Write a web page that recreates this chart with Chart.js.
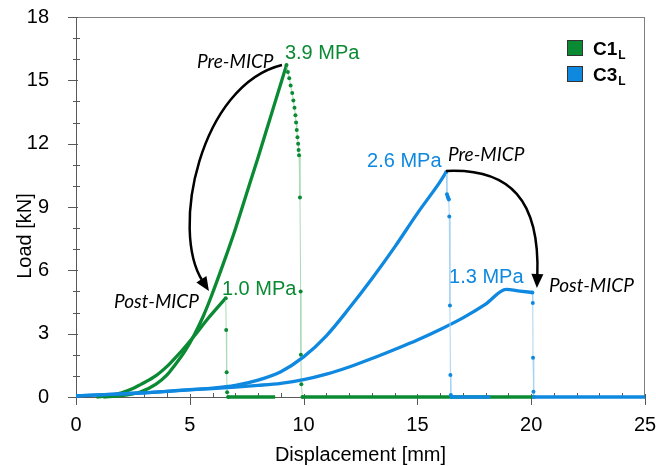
<!DOCTYPE html>
<html>
<head>
<meta charset="utf-8">
<script src="https://cdn.jsdelivr.net/npm/chart.js@4.4.0/dist/chart.umd.min.js"></script>
<style>
  html, body { margin: 0; padding: 0; background: #fff; }
  #mycanvas { display: block; }
</style>
</head>
<body>
<canvas id="mycanvas" width="656" height="466"></canvas>
<script>
// C1_L (green) - pre and post MICP
var c1PreX  = [1.2, 2.0, 2.5, 2.85, 3.5, 4.0, 4.3, 4.8, 5.2, 5.6, 5.92, 6.5, 7.0, 7.5, 8.0, 8.5, 9.0, 9.25];
var c1PreY  = [0, 0.06, 0.15, 0.25, 0.6, 1.05, 1.45, 2.2, 2.95, 3.85, 4.7, 6.4, 7.95, 9.65, 11.35, 13.1, 14.85, 15.73];
var c1PreDropX = [9.25, 9.31, 9.37, 9.43, 9.5, 9.55, 9.6, 9.64, 9.67, 9.7, 9.73, 9.76, 9.78, 9.8, 9.84, 9.87, 9.88, 9.9, 9.95];
var c1PreDropY = [15.73, 15.4, 15.1, 14.75, 14.4, 14.05, 13.7, 13.35, 13.0, 12.65, 12.3, 12.0, 11.7, 11.45, 9.45, 5.0, 2.0, 0.6, 0];
var c1PreRestX = [9.95, 20.1];
var c1PreRestY = [0, 0];

var c1PostX = [0.9, 1.5, 2.0, 2.5, 2.85, 3.5, 4.0, 4.3, 4.8, 5.2, 5.8, 6.2, 6.58];
var c1PostY = [0, 0.08, 0.2, 0.4, 0.6, 1.0, 1.45, 1.78, 2.38, 2.9, 3.72, 4.22, 4.68];
var c1PostDropX = [6.58, 6.6, 6.62, 6.64, 6.68];
var c1PostDropY = [4.68, 3.17, 1.17, 0.22, 0];
var c1PostRestX = [6.68, 8.75];
var c1PostRestY = [0, 0];

// C3_L (blue) - pre and post MICP
var c3PreX = [0, 1, 2, 3, 4, 5, 6, 7, 8, 9, 10, 11, 12, 13, 14, 15, 16, 16.27];
var c3PreY = [0.05, 0.1, 0.15, 0.2, 0.27, 0.35, 0.42, 0.55, 0.8, 1.2, 1.9, 2.9, 4.2, 5.6, 7.1, 8.7, 10.2, 10.66];
var c3PreDropX = [16.27, 16.3, 16.33, 16.36, 16.38, 16.4, 16.43, 16.45, 16.47, 16.5];
var c3PreDropY = [10.66, 9.6, 9.5, 9.42, 9.35, 8.55, 4.33, 1.04, 0.1, 0];
var c3PreRestX = [16.5, 18.2];
var c3PreRestY = [0, 0];

var c3PostX = [0, 1, 2, 3, 4, 5, 6, 7, 8, 9, 10, 11, 12, 13, 14, 15, 16, 17, 18, 18.9, 19.5, 20.05];
var c3PostY = [0.05, 0.1, 0.15, 0.2, 0.27, 0.34, 0.4, 0.47, 0.55, 0.65, 0.82, 1.08, 1.42, 1.82, 2.25, 2.7, 3.2, 3.75, 4.4, 5.1, 5.02, 4.95];
var c3PostDropX = [20.05, 20.07, 20.08, 20.1, 20.12];
var c3PostDropY = [4.95, 4.45, 1.86, 0.25, 0];
var c3PostRestX = [20.12, 25];
var c3PostRestY = [0, 0];

var seriesNames = ['C1', 'C3'];
var seriesSub = 'L';
var xTicks = [0, 5, 10, 15, 20, 25];
var yTicks = [0, 3, 6, 9, 12, 15, 18];

// annotations (data units)
var noteText = ['3.9 MPa', 'Pre-MICP', '1.0 MPa', 'Post-MICP', '2.6 MPa', 'Pre-MICP', '1.3 MPa', 'Post-MICP'];
var noteX = [9.18, 5.32, 6.41, 1.67, 12.79, 16.34, 16.39, 20.78];
var noteY = [16.01, 15.58, 4.83, 4.22, 10.9, 11.18, 5.4, 4.97];
var noteKind = ['g', 'k', 'g', 'k', 'b', 'k', 'b', 'k'];

// arrows: start, cp1, cp2, tip
var arrow1 = [[9.05, 15.73], [5.45, 14.78], [4.13, 7.91], [5.84, 5.02]];
var arrow2 = [[16.26, 10.71], [19.07, 10.85], [20.39, 9.33], [20.25, 5.16]];

var GREEN = '#0b8a34';
var BLUE = '#0f88e0';
var GREEN_LT = '#a9dbb6';
var BLUE_LT = '#a8d3f3';
var FONT = "'Liberation Sans', Arial, sans-serif";

function pts(xs, ys) {
  var out = [];
  for (var i in xs) out.push({x: xs[i], y: ys[i]});
  return out;
}
function curve(xs, ys, color) {
  return { data: pts(xs, ys), showLine: true, borderColor: color, backgroundColor: color,
    borderWidth: 3.3, pointRadius: 0, cubicInterpolationMode: 'monotone', clip: 6 };
}
function drop(xs, ys, color, light) {
  return { data: pts(xs, ys), showLine: true, borderColor: light, backgroundColor: color,
    borderWidth: 1, pointRadius: 2, pointBorderWidth: 0, tension: 0, clip: 6 };
}
function flat(xs, ys, color) {
  return { data: pts(xs, ys), showLine: true, borderColor: color, backgroundColor: color,
    borderWidth: 3.3, pointRadius: 0, tension: 0, clip: 6 };
}

var frame = {
  id: 'frame',
  beforeDatasetsDraw: function(chart) {
    var c = chart.ctx, a = chart.chartArea, sx = chart.scales.x, sy = chart.scales.y;
    c.save();
    c.lineWidth = 1;
    c.strokeStyle = '#7f7f7f';
    c.strokeRect(a.left + 0.5, a.top + 0.5, a.right - a.left - 1, a.bottom - a.top);
    c.strokeStyle = '#595959';
    c.beginPath();
    c.moveTo(a.left + 0.5, a.top); c.lineTo(a.left + 0.5, a.bottom + 0.5);
    c.lineTo(a.right, a.bottom + 0.5);
    // minor/major ticks
    for (var v = 0; v <= 25; v++) {
      var x = Math.round(sx.getPixelForValue(v)) + 0.5;
      if (v % 5 === 0) { c.moveTo(x, a.bottom - 3); c.lineTo(x, a.bottom + 8); }
      else { c.moveTo(x, a.bottom - 4); c.lineTo(x, a.bottom + 1); }
    }
    for (var w = 0; w <= 18; w++) {
      var y = Math.round(sy.getPixelForValue(w)) + 0.5;
      if (w % 3 === 0) { c.moveTo(a.left - 8, y); c.lineTo(a.left + 2, y); }
      else { c.moveTo(a.left - 3, y); c.lineTo(a.left + 4, y); }
    }
    c.stroke();
    c.restore();
  },
  afterDatasetsDraw: function(chart) {
    var c = chart.ctx, a = chart.chartArea, sx = chart.scales.x, sy = chart.scales.y;
    c.save();
    // axis titles
    c.fillStyle = '#000';
    c.font = '20px ' + FONT;
    c.textAlign = 'center';
    c.textBaseline = 'alphabetic';
    c.fillText('Displacement [mm]', (a.left + a.right) / 2, 461);
    c.save();
    c.translate(31, 236);
    c.rotate(-Math.PI / 2);
    c.fillText('Load [kN]', 0, 0);
    c.restore();

    // notes
    c.textAlign = 'left';
    for (var i = 0; i < noteText.length; i++) {
      var k = noteKind[i];
      if (k === 'k') { c.font = 'italic 19px Lato, ' + FONT; c.fillStyle = '#000'; }
      else { c.font = '20px ' + FONT; c.fillStyle = k === 'g' ? GREEN : BLUE; }
      c.fillText(noteText[i], sx.getPixelForValue(noteX[i]), sy.getPixelForValue(noteY[i]));
    }

    // arrows
    [arrow1, arrow2].forEach(function(ar) {
      var p = ar.map(function(q) { return [sx.getPixelForValue(q[0]), sy.getPixelForValue(q[1])]; });
      var tip = p[3], cp2 = p[2];
      var dx = tip[0] - cp2[0], dy = tip[1] - cp2[1], len = Math.sqrt(dx * dx + dy * dy);
      dx /= len; dy /= len;
      var hl = 14, hw = 6;
      var base = [tip[0] - dx * hl, tip[1] - dy * hl];
      c.strokeStyle = '#000';
      c.lineWidth = 2.5;
      c.beginPath();
      c.moveTo(p[0][0], p[0][1]);
      c.bezierCurveTo(p[1][0], p[1][1], cp2[0], cp2[1], base[0] + dx * 2, base[1] + dy * 2);
      c.stroke();
      c.fillStyle = '#000';
      c.beginPath();
      c.moveTo(tip[0], tip[1]);
      c.lineTo(base[0] - dy * hw, base[1] + dx * hw);
      c.lineTo(base[0] + dy * hw, base[1] - dx * hw);
      c.closePath();
      c.fill();
    });

    // legend
    var cols = [GREEN, BLUE];
    for (var j = 0; j < seriesNames.length; j++) {
      var top = 40 + j * 26;
      c.fillStyle = cols[j];
      c.fillRect(567, top, 16, 16);
      c.strokeStyle = '#333';
      c.lineWidth = 1;
      c.strokeRect(567.5, top + 0.5, 15, 15);
      c.fillStyle = '#000';
      c.font = 'bold 19px ' + FONT;
      c.fillText(seriesNames[j], 593, top + 15);
      var w = c.measureText(seriesNames[j]).width;
      c.font = 'bold 12px ' + FONT;
      c.fillText(seriesSub, 593 + w + 1, top + 19);
    }
    c.restore();
  }
};

var ctx = document.getElementById('mycanvas');
var chart = new Chart(ctx, {
  type: 'scatter',
  data: {
    datasets: [
      flat(c3PostRestX, c3PostRestY, BLUE),
      flat(c3PreRestX, c3PreRestY, BLUE),
      drop(c3PostDropX, c3PostDropY, BLUE, BLUE_LT),
      drop(c3PreDropX, c3PreDropY, BLUE, BLUE_LT),
      curve(c3PostX, c3PostY, BLUE),
      curve(c3PreX, c3PreY, BLUE),
      flat(c1PreRestX, c1PreRestY, GREEN),
      flat(c1PostRestX, c1PostRestY, GREEN),
      drop(c1PostDropX, c1PostDropY, GREEN, GREEN_LT),
      drop(c1PreDropX, c1PreDropY, GREEN, GREEN_LT),
      curve(c1PostX, c1PostY, GREEN),
      curve(c1PreX, c1PreY, GREEN)
    ]
  },
  options: {
    responsive: false,
    animation: false,
    layout: { padding: { top: 17, right: 11, left: 0, bottom: 0 } },
    plugins: { legend: { display: false }, tooltip: { enabled: false } },
    scales: {
      x: {
        type: 'linear', min: 0, max: 25,
        afterFit: function(s) { s.height = 69; s.paddingLeft = 0; s.paddingRight = 0; },
        afterBuildTicks: function(s) { s.ticks = xTicks.map(function(v) { return {value: v}; }); },
        grid: { display: false }, border: { display: false },
        ticks: { color: '#000', padding: 8, maxRotation: 0, font: { family: FONT, size: 20 } }
      },
      y: {
        type: 'linear', min: 0, max: 18,
        afterFit: function(s) { s.width = 76; s.paddingTop = 0; s.paddingBottom = 0; },
        afterBuildTicks: function(s) { s.ticks = yTicks.map(function(v) { return {value: v}; }); },
        grid: { display: false }, border: { display: false },
        ticks: { color: '#000', padding: 19, font: { family: FONT, size: 20 } }
      }
    }
  },
  plugins: [frame]
});
</script>
</body>
</html>
